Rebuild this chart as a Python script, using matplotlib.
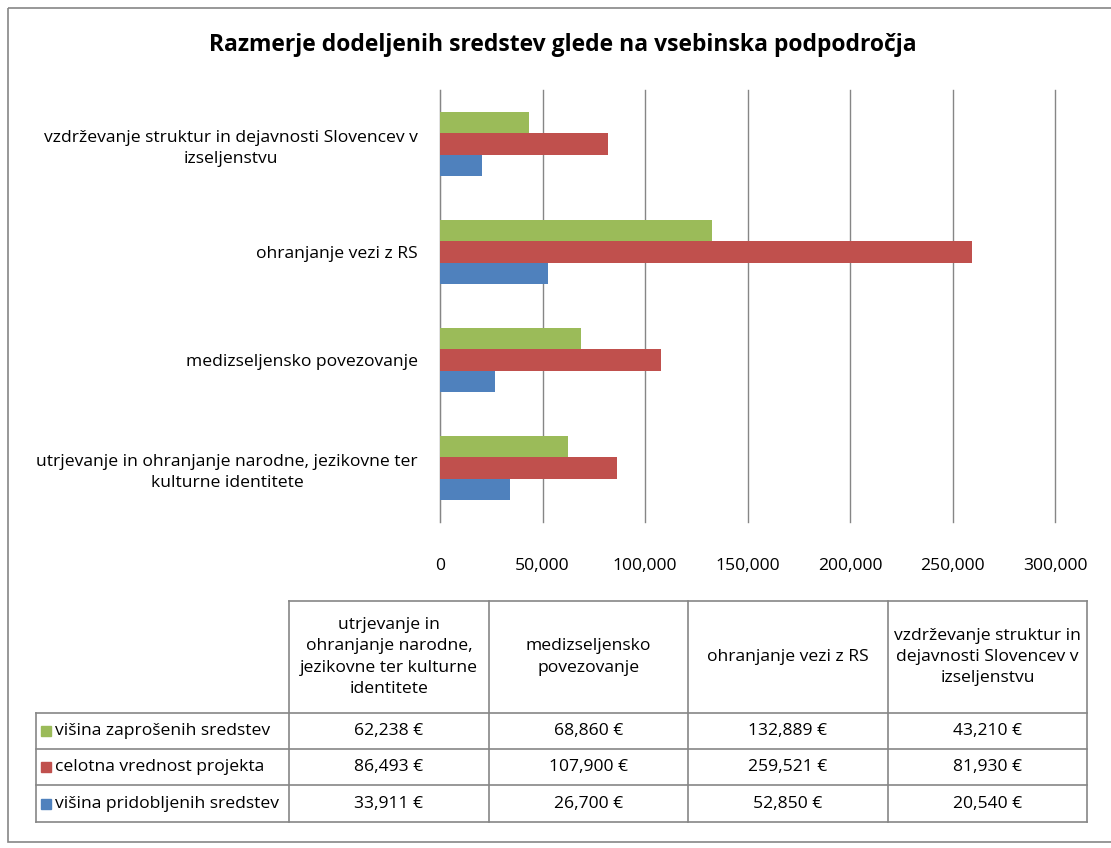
import matplotlib.pyplot as plt
from matplotlib.patches import Rectangle
import numpy as np

plt.rcParams['font.family'] = ['Open Sans', 'DejaVu Sans']

# categories, bottom to top as drawn in the chart
categories = ["utrjevanje in ohranjanje narodne, jezikovne ter\nkulturne identitete",
              "medizseljensko povezovanje",
              "ohranjanje vezi z RS",
              "vzdrževanje struktur in dejavnosti Slovencev v\nizseljenstvu"]
table_headers = ["utrjevanje in\nohranjanje narodne,\njezikovne ter kulturne\nidentitete",
                 "medizseljensko\npovezovanje",
                 "ohranjanje vezi z RS",
                 "vzdrževanje struktur in\ndejavnosti Slovencev v\nizseljenstvu"]
series_names = ["višina zaprošenih sredstev", "celotna vrednost projekta", "višina pridobljenih sredstev"]
zaprosena = [62238, 68860, 132889, 43210]
celotna = [86493, 107900, 259521, 81930]
pridobljena = [33911, 26700, 52850, 20540]
colors = ["#9BBB59", "#C0504D", "#4F81BD"]

W, H = 1111, 848
fs = 12.6
fig = plt.figure(figsize=(W / 100, H / 100), dpi=100)

def px(x0, y0, x1, y1):
    return [x0 / W, 1 - y1 / H, (x1 - x0) / W, (y1 - y0) / H]

ax = fig.add_axes(px(440, 90, 1055, 522))
y = np.arange(len(categories))
h = 0.2
series = [zaprosena, celotna, pridobljena]
for i, (vals, c) in enumerate(zip(series, colors)):
    ax.barh(y + (1 - i) * h, vals, height=h, color=c, zorder=3)

ax.set_xlim(0, 300000)
ax.set_ylim(-0.5, 3.5)
ax.set_xticks(np.arange(0, 300001, 50000))
ax.set_xticklabels(["{:,}".format(v) for v in range(0, 300001, 50000)])
ax.set_yticks(y)
ax.set_yticklabels(categories, multialignment='center', linespacing=1.45)
ax.grid(axis='x', color='#868686', linewidth=1, zorder=0)
for gl in ax.get_xgridlines():
    gl.set_clip_on(False)
for s in ['top', 'right', 'bottom']:
    ax.spines[s].set_visible(False)
ax.spines['left'].set_color('#868686')
ax.tick_params(axis='x', length=0, pad=26, labelsize=fs)
ax.tick_params(axis='y', length=0, pad=16, labelsize=fs)

fig.text(563 / W, 1 - 45 / H, "Razmerje dodeljenih sredstev glede na vsebinska podpodročja",
         ha='center', va='center', fontsize=16.5, fontweight='bold')

# overlay in pixel coords for border and data table
ov = fig.add_axes([0, 0, 1, 1])
ov.set_xlim(0, W)
ov.set_ylim(H, 0)
ov.axis('off')
ov.add_patch(Rectangle((8, 8), 1120, 834, fill=False, edgecolor='#868686', linewidth=1.2))

col_x = [36, 289, 489, 688, 888, 1087]
row_y = [601, 713, 749, 785, 822]
lc = '#868686'
# header block only for data columns
ov.plot([col_x[1], col_x[-1]], [row_y[0], row_y[0]], color=lc, lw=1.2)
for x in col_x[1:]:
    ov.plot([x, x], [row_y[0], row_y[-1]], color=lc, lw=1.2)
for yy in row_y[1:]:
    ov.plot([col_x[0], col_x[-1]], [yy, yy], color=lc, lw=1.2)
ov.plot([col_x[0], col_x[0]], [row_y[1], row_y[-1]], color=lc, lw=1.2)

for j, head in enumerate(table_headers):
    ov.text((col_x[j + 1] + col_x[j + 2]) / 2, (row_y[0] + row_y[1]) / 2, head,
            ha='center', va='center', fontsize=fs, linespacing=1.45)

for i, (name, vals, c) in enumerate(zip(series_names, series, colors)):
    yc = (row_y[i + 1] + row_y[i + 2]) / 2
    ov.add_patch(Rectangle((41, yc - 5), 10, 10, color=c))
    ov.text(55, yc, name, ha='left', va='center', fontsize=fs)
    for j, v in enumerate(vals):
        ov.text((col_x[j + 1] + col_x[j + 2]) / 2, yc, "{:,} €".format(v),
                ha='center', va='center', fontsize=fs)

fig.savefig("out.png", dpi=100)
